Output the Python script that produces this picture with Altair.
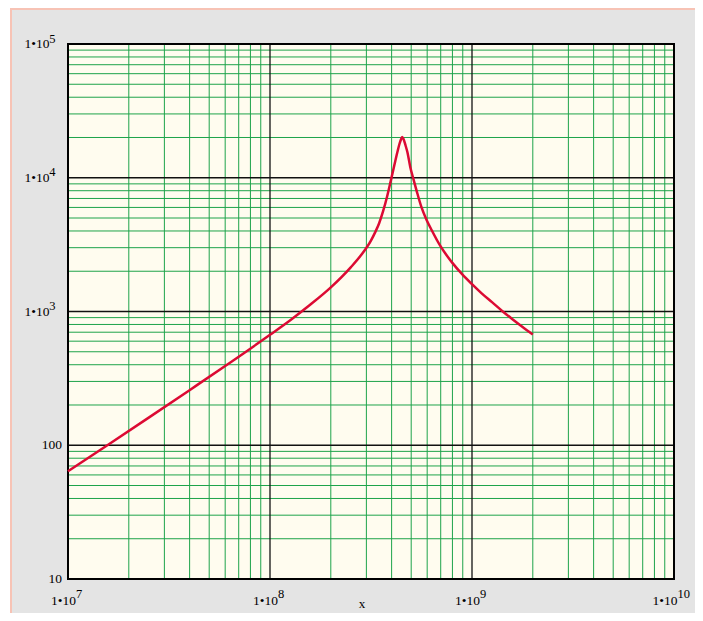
import altair as alt
import pandas as pd

# ---- data ----
x_decades = [1e7, 1e8, 1e9, 1e10]
x_exps = ["7", "8", "9", "10"]
y_plain_ticks = [10, 100]
y_plain_labels = ["10", "100"]
y_pow_ticks = [1e3, 1e4, 1e5]
y_pow_exps = ["3", "4", "5"]
y_decades = [10, 100, 1e3, 1e4, 1e5]
minor_mult = [2, 3, 4, 5, 6, 7, 8, 9]
x_title = ["x"]

curve_x = [1.00e7, 1.58e7, 2.51e7, 3.98e7, 6.31e7, 1.00e8, 1.26e8, 1.58e8,
           2.00e8, 2.51e8, 2.82e8, 3.16e8, 3.31e8, 3.47e8, 3.63e8, 3.80e8,
           3.98e8, 4.12e8, 4.27e8, 4.37e8, 4.45e8, 4.51e8, 4.58e8, 4.68e8,
           4.79e8, 4.95e8, 5.13e8, 5.37e8, 5.62e8, 5.96e8, 6.31e8, 6.97e8,
           7.94e8, 8.91e8, 1.00e9, 1.12e9, 1.26e9, 1.41e9, 1.58e9, 1.78e9,
           2.00e9]
curve_y = [64, 101, 161, 257, 412, 670, 861, 1122,
           1514, 2138, 2630, 3388, 3890, 4570, 5620, 7240,
           9770, 12300, 15500, 17800, 19300, 20200, 19500, 17600,
           15500, 12000, 9770, 7590, 6030, 4840, 4070, 3090,
           2340, 1910, 1600, 1360, 1170, 1010, 880, 767,
           674]

W, H = 606, 535
GRAY = "#e4e4e4"
PINK = "#f7c3b5"
CREAM = "#fffcef"
GREEN = "#1ea34a"
MAJOR = "#111111"
RED = "#dc0a33"
FONT = "Liberation Serif"

xs = alt.Scale(type="log", domain=[1e7, 1e10], nice=False)
ys = alt.Scale(type="log", domain=[10, 1e5], nice=False)

one = pd.DataFrame({"k": [0]})

bg = alt.Chart(one).mark_rect(fill=GRAY, stroke=PINK, strokeWidth=2).encode(
    x=alt.value(-57), x2=alt.value(1000), y=alt.value(-35), y2=alt.value(1000))
plot_bg = alt.Chart(one).mark_rect(fill=CREAM).encode(
    x=alt.value(0), x2=alt.value(W), y=alt.value(0), y2=alt.value(H))

x_minor = pd.DataFrame({"gx": [m * d for d in x_decades[:-1] for m in minor_mult]})
y_minor = pd.DataFrame({"gy": [m * d for d in y_decades[:-1] for m in minor_mult]})

vminor = alt.Chart(x_minor).mark_rule(color=GREEN, strokeWidth=1).encode(
    x=alt.X("gx:Q", scale=xs, axis=None))
hminor = alt.Chart(y_minor).mark_rule(color=GREEN, strokeWidth=1).encode(
    y=alt.Y("gy:Q", scale=ys, axis=None))
vmajor = alt.Chart(pd.DataFrame({"mx": x_decades})).mark_rule(color=MAJOR, strokeWidth=1.3).encode(
    x=alt.X("mx:Q", scale=xs, axis=None))
hmajor = alt.Chart(pd.DataFrame({"my": y_decades})).mark_rule(color=MAJOR, strokeWidth=1.3).encode(
    y=alt.Y("my:Q", scale=ys, axis=None))

border = alt.Chart(one).mark_rect(fill="transparent", stroke="#000000", strokeWidth=2).encode(
    x=alt.value(0), x2=alt.value(W), y=alt.value(0), y2=alt.value(H))

curve = alt.Chart(pd.DataFrame({"x": curve_x, "y": curve_y})).mark_line(
    color=RED, strokeWidth=2.5, interpolate="monotone").encode(
    x=alt.X("x:Q", scale=xs, axis=None),
    y=alt.Y("y:Q", scale=ys, axis=None))

xl = pd.DataFrame({"t": x_decades, "exp": x_exps, "base": ["1\u202210"] * len(x_decades)})
txt = dict(font=FONT, color="#000000", baseline="middle")


def x_labels(cond, dx):
    b = alt.Chart(xl).transform_filter(cond).mark_text(align="right", dx=dx, fontSize=13.5, **txt).encode(
        x=alt.X("t:Q", scale=xs, axis=None), y=alt.value(H + 22), text="base:N")
    e = alt.Chart(xl).transform_filter(cond).mark_text(align="left", dx=dx, fontSize=12.5, **txt).encode(
        x=alt.X("t:Q", scale=xs, axis=None), y=alt.value(H + 14.5), text="exp:N")
    return [b, e]


xlab = x_labels("length(datum.exp) == 1", 8) + x_labels("length(datum.exp) == 2", 3.5)

yp = pd.DataFrame({"t": y_pow_ticks, "exp": y_pow_exps, "base": ["1\u202210"] * len(y_pow_ticks)})
ypl = pd.DataFrame({"t": y_plain_ticks, "lab": y_plain_labels})
yb = alt.Chart(yp).mark_text(align="right", fontSize=13.5, **txt).encode(
    x=alt.value(-18.5), y=alt.Y("t:Q", scale=ys, axis=None), text="base:N")
ye = alt.Chart(yp).mark_text(align="right", dy=-5.5, fontSize=12.5, **txt).encode(
    x=alt.value(-12.5), y=alt.Y("t:Q", scale=ys, axis=None), text="exp:N")
yplain = alt.Chart(ypl).mark_text(align="right", fontSize=13.5, **txt).encode(
    x=alt.value(-6), y=alt.Y("t:Q", scale=ys, axis=None), text="lab:N")

xtitle = alt.Chart(pd.DataFrame({"lab": x_title})).mark_text(
    align="center", fontSize=13, **txt).encode(
    x=alt.value(294), y=alt.value(H + 25), text="lab:N")

chart = alt.layer(bg, plot_bg, vminor, hminor, vmajor, hmajor, border, curve,
                  *xlab, yb, ye, yplain, xtitle).properties(
    width=W, height=H,
    autosize=alt.AutoSizeParams(type="none"),
    padding={"left": 60, "top": 36, "right": 21, "bottom": 34},
    background="white",
).configure_view(stroke="transparent")

chart.save("out.html", embed_options={"renderer": "svg", "actions": False})
